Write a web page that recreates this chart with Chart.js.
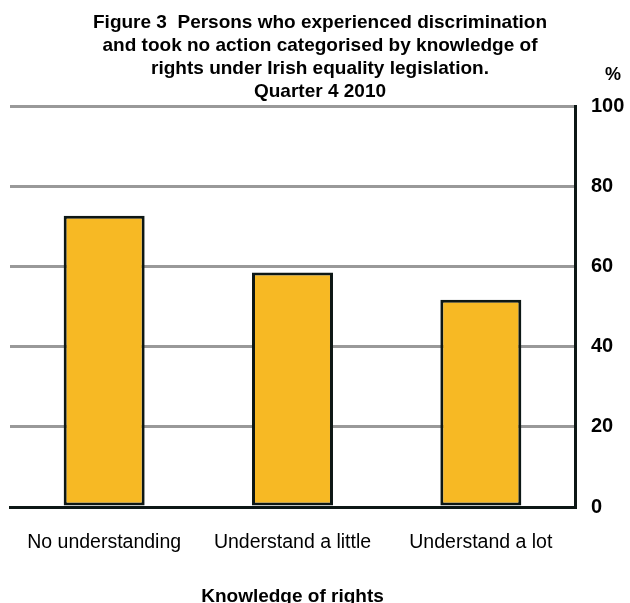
<!DOCTYPE html>
<html>
<head>
<meta charset="utf-8">
<script src="https://cdn.jsdelivr.net/npm/chart.js@4.4.0/dist/chart.umd.min.js"></script>
<style>
  html, body { margin: 0; padding: 0; background: #fff; }
  #wrap { width: 630px; height: 603px; position: relative; }
</style>
</head>
<body>
<div id="wrap"><canvas id="rightsChart"></canvas></div>
<script>
const titleLines = [
    'Figure 3  Persons who experienced discrimination',
    'and took no action categorised by knowledge of',
    'rights under Irish equality legislation.',
    'Quarter 4 2010'
];
const categories = ['No understanding', 'Understand a little', 'Understand a lot'];
const percentages = [72.6, 58.5, 51.7];
const yTicks = [0, 20, 40, 60, 80, 100];
const axisTitle = 'Knowledge of rights';
const unitLabel = '%';

const INK = '#0d1715';
const FONT = '"Liberation Sans", Arial, sans-serif';

Chart.defaults.font.family = FONT;
Chart.defaults.color = '#000';

// "%" sits above the top tick of the right-hand axis
const unitPlugin = {
    id: 'unitLabel',
    afterDraw(chart) {
        const y = chart.scales.y;
        const ctx = chart.ctx;
        ctx.save();
        ctx.font = 'bold 18px ' + FONT;
        ctx.fillStyle = '#000';
        ctx.textAlign = 'center';
        ctx.textBaseline = 'middle';
        ctx.fillText(unitLabel, y.right - 17, y.top - 31);
        ctx.restore();
    }
};

new Chart(document.getElementById('rightsChart'), {
    type: 'bar',
    data: {
        labels: categories,
        datasets: [{
            data: percentages,
            backgroundColor: '#F7B924',
            borderColor: INK,
            borderWidth: 3,
            borderSkipped: false,
            barPercentage: 0.43,
            categoryPercentage: 1
        }]
    },
    options: {
        responsive: true,
        maintainAspectRatio: false,
        animation: false,
        layout: {
            padding: { left: 10, right: 0, top: 0, bottom: 0 }
        },
        plugins: {
            legend: { display: false },
            tooltip: { enabled: false },
            title: {
                display: true,
                text: titleLines,
                color: '#000',
                font: { size: 19, weight: 'bold', lineHeight: 23 / 19 },
                padding: { top: 11, bottom: 3 }
            }
        },
        scales: {
            x: {
                grid: { display: false },
                border: { display: true, color: INK, width: 3 },
                ticks: {
                    color: '#000',
                    font: { size: 19.5 },
                    padding: 16,
                    maxRotation: 0
                },
                title: {
                    display: true,
                    text: axisTitle,
                    color: '#000',
                    font: { size: 19, weight: 'bold' },
                    padding: { top: 30, bottom: -5 }
                },
                afterFit: (scale) => { scale.height = 96; }
            },
            y: {
                position: 'right',
                min: 0,
                max: 100,
                afterBuildTicks: (scale) => {
                    scale.ticks = yTicks.map(v => ({ value: v }));
                },
                grid: {
                    color: (c) => c.tick && c.tick.value === 0 ? 'rgba(0,0,0,0)' : '#999999',
                    lineWidth: 3,
                    drawTicks: false
                },
                border: { display: true, color: INK, width: 3 },
                ticks: {
                    color: '#000',
                    font: { size: 20, weight: 'bold' },
                    padding: 16
                },
                afterFit: (scale) => { scale.width = 55; }
            }
        }
    },
    plugins: [unitPlugin]
});
</script>
</body>
</html>
